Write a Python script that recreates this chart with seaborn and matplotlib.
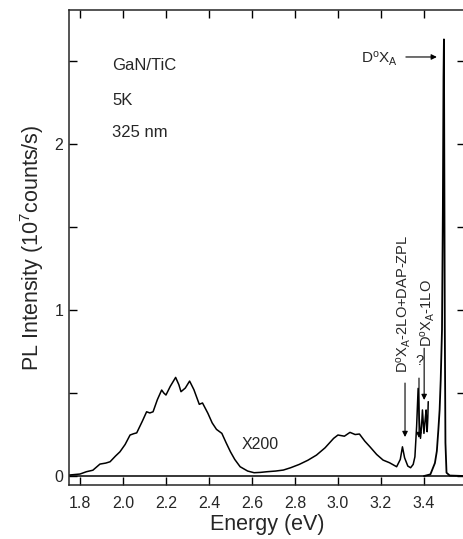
import numpy as np
import pandas as pd
import matplotlib
matplotlib.use("Agg")
import matplotlib.pyplot as plt
import seaborn as sb

# x200 low-energy part of spectrum (values already multiplied by 200)
energy_x200 = [1.75, 1.80, 1.83, 1.86, 1.893, 1.92, 1.94, 1.965, 1.986, 2.01, 2.033, 2.05,
               2.064, 2.09, 2.11, 2.125, 2.14, 2.16, 2.18, 2.19, 2.20, 2.22, 2.245, 2.26,
               2.27, 2.29, 2.31, 2.33, 2.355, 2.37, 2.395, 2.415, 2.435, 2.46, 2.48, 2.50,
               2.52, 2.545, 2.58, 2.61, 2.64, 2.67, 2.71, 2.746, 2.78, 2.82, 2.86, 2.90,
               2.94, 2.98, 3.0, 3.03, 3.056, 3.08, 3.10, 3.125, 3.149, 3.18, 3.21, 3.24,
               3.273, 3.29, 3.30, 3.31, 3.325, 3.338, 3.35, 3.358, 3.366, 3.373, 3.378,
               3.384, 3.389, 3.393, 3.397, 3.40, 3.405, 3.41, 3.413, 3.415, 3.418, 3.42]
intensity_x200 = [0.006, 0.012, 0.026, 0.035, 0.072, 0.078, 0.086, 0.12, 0.146, 0.19, 0.247, 0.255,
                  0.26, 0.33, 0.387, 0.38, 0.387, 0.46, 0.518, 0.5, 0.488, 0.54, 0.594, 0.55,
                  0.508, 0.53, 0.572, 0.52, 0.432, 0.44, 0.378, 0.32, 0.281, 0.257, 0.2, 0.146,
                  0.1, 0.056, 0.03, 0.02, 0.022, 0.026, 0.03, 0.036, 0.05, 0.07, 0.095, 0.126,
                  0.17, 0.227, 0.247, 0.24, 0.263, 0.25, 0.253, 0.21, 0.176, 0.13, 0.096, 0.08,
                  0.056, 0.1, 0.176, 0.11, 0.06, 0.05, 0.07, 0.116, 0.3, 0.528, 0.35,
                  0.227, 0.3, 0.398, 0.32, 0.257, 0.33, 0.398, 0.3, 0.267, 0.35, 0.448]

# full-scale near band-edge emission
energy_main = [3.40, 3.43, 3.451, 3.46, 3.467, 3.473, 3.478, 3.484, 3.488, 3.491, 3.493,
               3.495, 3.497, 3.50, 3.505, 3.52, 3.59]
intensity_main = [0.0, 0.01, 0.078, 0.15, 0.277, 0.4, 0.578, 0.88, 1.6, 2.4, 2.63,
                  1.8, 0.9, 0.2, 0.02, 0.003, 0.0]

xticks = [1.8, 2.0, 2.2, 2.4, 2.6, 2.8, 3.0, 3.2, 3.4]
xtick_labels = ["1.8", "2.0", "2.2", "2.4", "2.6", "2.8", "3.0", "3.2", "3.4"]
yticks = [0, 1, 2]

sb.set_style("ticks")
plt.rcParams['font.family'] = ['Liberation Sans', 'DejaVu Sans']
plt.rcParams['mathtext.fontset'] = 'custom'
plt.rcParams['mathtext.rm'] = 'Liberation Sans'
plt.rcParams['mathtext.it'] = 'Liberation Sans:italic'

fig = plt.figure(figsize=(4.63, 5.39), dpi=100)
ax = fig.add_axes([69 / 463, 1 - 485 / 539, (465 - 69) / 463, (485 - 10) / 539])

df1 = pd.DataFrame({'E': energy_x200, 'I': intensity_x200})
df2 = pd.DataFrame({'E': energy_main, 'I': intensity_main})
sb.lineplot(data=df1, x='E', y='I', color='black', lw=1.1, ax=ax, sort=False)
sb.lineplot(data=df2, x='E', y='I', color='black', lw=1.3, ax=ax, sort=False)
ax.axhline(0, color='black', lw=1.1)

ax.set_xlim(1.749, 3.591)
ax.set_ylim(-0.054, 2.807)
ax.set_xticks(xticks)
ax.set_xticklabels(xtick_labels)
ax.set_yticks(yticks)
ax.set_yticks([0.5, 1.5, 2.5], minor=True)
ax.tick_params(which='both', direction='in', top=True, right=True, labelsize=11.5,
               length=6, width=1, color='black')
ax.tick_params(axis='x', pad=8)
ax.tick_params(axis='y', pad=4)
ax.tick_params(axis='y', which='minor', length=6, width=1)
ax.spines['right'].set_visible(False)
for s in ['left', 'top', 'bottom']:
    ax.spines[s].set_linewidth(1.1)

ax.set_xlabel("Energy (eV)", fontsize=15.5, labelpad=2)
ax.set_ylabel("PL Intensity (10$^7$counts/s)", fontsize=15.5, labelpad=6)

ax.text(1.95, 2.47, "GaN/TiC", fontsize=12, va='center')
ax.text(1.95, 2.26, "5K", fontsize=12, va='center')
ax.text(1.95, 2.07, "325 nm", fontsize=12, va='center')
ax.text(2.55, 0.19, "X200", fontsize=11.5, va='center')

arr = dict(arrowstyle='-|>', color='black', lw=0.8, mutation_scale=8, shrinkA=0, shrinkB=0)
ax.text(3.279, 2.515, "D$^{\\rm o}$X$_{\\rm A}$", fontsize=11, ha='right', va='center')
ax.annotate("", xy=(3.46, 2.524), xytext=(3.316, 2.524), arrowprops=arr)

ax.text(3.307, 0.62, "D$^{\\rm o}$X$_{\\rm A}$-2LO+DAP-ZPL", fontsize=10.5, rotation=90,
        ha='center', va='bottom')
ax.annotate("", xy=(3.312, 0.235), xytext=(3.312, 0.56), arrowprops=arr)

ax.text(3.377, 0.69, "?", fontsize=10.5, ha='center', va='center')
ax.annotate("", xy=(3.377, 0.229), xytext=(3.377, 0.59), arrowprops=arr)

ax.text(3.42, 0.777, "D$^{\\rm o}$X$_{\\rm A}$-1LO", fontsize=10.5, rotation=90,
        ha='center', va='bottom')
ax.annotate("", xy=(3.401, 0.458), xytext=(3.401, 0.77), arrowprops=arr)

fig.savefig("out.png", dpi=100)
